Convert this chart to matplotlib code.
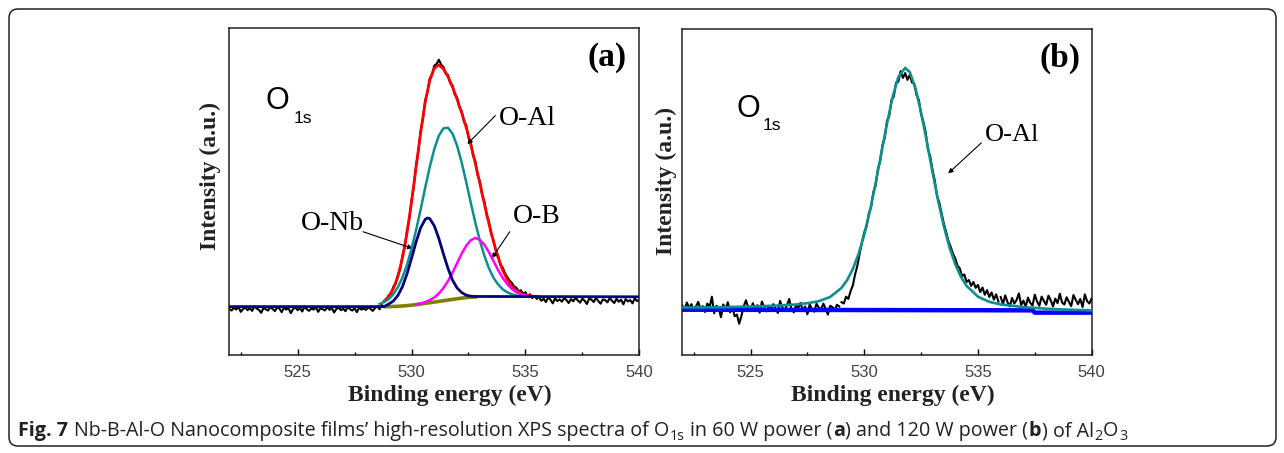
import numpy as np
import matplotlib.pyplot as plt
from matplotlib.patches import FancyBboxPatch
from matplotlib.transforms import IdentityTransform

# ---------------- panel (a): 60 W ----------------
# raw spectrum, sampled every 0.1 eV
raw_a_left_start = 522.0
raw_a_left = [
    14.1, 13.6, 14.5, 13.9, 14.8, 13.2, 14.0, 14.6, 13.7, 14.3,
    13.5, 14.9, 14.2, 13.8, 12.9, 14.4, 14.0, 13.6, 14.7, 14.1,
    13.4, 14.6, 14.2, 13.1, 14.5, 13.9, 14.3, 12.8, 14.1, 14.6,
    13.7, 14.4, 13.3, 14.8, 14.0, 13.5, 14.2, 13.9, 14.6, 13.2,
    14.3, 14.0, 13.6, 14.7, 13.8, 14.4, 13.0, 14.1, 14.5, 13.7,
    14.2, 13.4, 14.8, 14.0, 13.6, 14.3, 13.1, 14.5, 13.9, 14.2,
    13.8, 14.6, 14.1, 13.5, 14.4, 14.9, 14.0, 15.3, 14.7,
]
raw_a_peak_start = 528.9
raw_a_peak = [
    16.8, 18.3, 18.6, 20.9, 21.6, 24.5, 26.1, 30.4, 32.8, 38.0,
    41.5, 47.3, 51.6, 58.1, 62.3, 68.6, 72.2, 77.9, 80.4, 84.6,
    85.8, 88.5, 89.0, 90.3, 88.8, 88.1, 86.0, 85.7, 83.1, 82.5,
    79.6, 78.8, 75.7, 74.6, 71.4, 70.3, 66.5, 65.0, 61.0, 59.3,
    55.0, 53.1, 48.8, 46.9, 42.6, 40.8, 36.9, 35.2, 31.8, 30.5,
    27.5, 26.8, 25.1, 23.9, 22.8, 22.1, 21.0, 20.6, 19.5, 19.8,
    18.7, 19.2, 17.9, 18.6, 17.4, 18.0, 17.2,
]
raw_a_right_start = 535.6
raw_a_right = [
    17.5, 16.6, 17.2, 16.2, 17.6, 16.9, 15.8, 17.3, 16.5, 17.0,
    16.3, 17.4, 16.8, 15.9, 17.1, 16.4, 17.5, 16.7, 16.0, 17.2,
    16.6, 15.6, 17.3, 16.9, 16.2, 17.5, 16.5, 15.7, 17.0, 16.8,
    16.1, 17.4, 16.6, 15.9, 17.2, 16.3, 16.9, 15.5, 17.1, 16.4,
    16.8, 15.8, 17.3, 16.5, 16.9,
]

# fitted envelope (red), 0.2 eV steps
red_a_start = 528.8
red_a = [16.5, 17.9, 20.3, 24.0, 29.7, 37.3, 46.8, 57.5, 68.0, 77.3,
         84.0, 87.7, 88.7, 87.5, 85.1, 81.9, 78.2, 74.1, 69.6, 64.4,
         58.6, 52.5, 46.2, 40.1, 34.6, 29.8, 26.0, 23.1, 21.0, 19.7,
         18.8, 18.3, 18.1, 17.9, 17.8]

# O-Al component (teal), 0.2 eV steps
oal_a_start = 528.6
oal_a = [15.6, 16.2, 17.1, 18.6, 20.7, 23.7, 27.6, 32.5, 38.2, 44.5,
         51.2, 57.5, 63.0, 67.1, 69.3, 69.5, 67.7, 64.0, 58.9, 52.9,
         46.6, 40.5, 35.0, 30.3, 26.5, 23.6, 21.6, 20.1, 19.2, 18.6,
         18.2, 18.0, 17.9]

# O-B component (magenta), 0.2 eV steps
ob_a_start = 530.2
ob_a = [15.5, 15.8, 16.2, 16.8, 17.6, 18.8, 20.5, 22.6, 25.2, 28.1,
        31.0, 33.4, 35.1, 35.8, 35.2, 33.7, 31.4, 28.7, 26.0, 23.6,
        21.7, 20.2, 19.2, 18.6, 18.2, 18.0, 17.9, 17.8]

# O-Nb component with baseline (navy)
onb_a_x = [522.0, 528.8, 529.0, 529.2, 529.4, 529.6, 529.8, 530.0, 530.2,
           530.4, 530.6, 530.7, 530.8, 531.0, 531.2, 531.4, 531.6, 531.8,
           532.0, 532.2, 532.4, 532.6, 532.8, 540.0]
onb_a_y = [14.8, 14.8, 15.6, 16.5, 18.2, 20.9, 24.8, 29.6, 34.6, 38.9,
           41.5, 41.9, 41.7, 39.5, 35.6, 30.9, 26.5, 22.9, 20.5, 19.1,
           18.3, 18.0, 17.9, 17.8]

# Shirley background (olive)
bg_a_x = [528.9, 529.0, 529.4, 529.8, 530.2, 530.6, 531.0, 531.4, 531.8,
          532.2, 532.6, 532.8]
bg_a_y = [14.8, 14.8, 14.9, 15.1, 15.4, 15.8, 16.2, 16.6, 17.0, 17.4,
          17.7, 17.75]

# ---------------- panel (b): 120 W ----------------
raw_b_left_start = 522.0
raw_b_left = [
    15.2, 13.8, 16.1, 14.4, 15.6, 13.5, 14.9, 16.3, 14.1, 15.0,
    13.2, 15.8, 14.6, 17.9, 12.8, 15.1, 14.3, 11.6, 15.5, 14.0,
    16.2, 13.1, 14.8, 11.9, 12.4, 9.6, 12.0, 15.0, 16.8, 14.5,
    13.6, 15.9, 14.1, 15.3, 13.0, 16.4, 14.7, 13.4, 15.1, 14.0,
    15.6, 14.2, 12.9, 16.6, 14.5, 13.8, 15.2, 17.2, 14.0, 13.1,
    15.3, 14.4, 16.0, 13.6, 14.9, 12.5, 15.5, 14.1, 13.3, 15.7,
    14.6, 13.9, 15.8, 14.3, 12.4, 15.1, 14.7, 13.8, 15.4, 14.9,
]
raw_b_peak_start = 529.0
raw_b_peak = [
    16.2, 15.8, 17.9, 17.2, 19.6, 21.4, 24.8, 27.5, 31.2, 34.6,
    37.6, 39.4, 43.4, 45.3, 50.0, 51.9, 57.1, 59.4, 64.3, 66.6,
    71.8, 73.4, 78.3, 79.3, 83.6, 83.8, 87.1, 85.0, 86.5, 84.4,
    85.9, 83.6, 83.2, 79.7, 78.3, 73.8, 71.6, 68.4, 63.1, 61.0,
    56.8, 53.6, 48.8, 46.8, 43.5, 40.3, 37.8, 35.0, 33.2, 31.1,
    29.7, 27.4, 26.6, 24.2, 24.7, 22.4, 23.0, 21.2, 22.4, 20.6,
    21.5, 19.3, 20.7, 18.5, 19.9, 17.8, 19.2, 17.0, 18.6, 16.4,
]
raw_b_right_start = 536.0
raw_b_right = [
    17.8, 15.6, 18.3, 16.2, 14.9, 17.5, 15.8, 16.9, 18.9, 15.3,
    16.7, 14.8, 17.6, 16.0, 15.2, 18.5, 16.4, 15.1, 17.9, 16.6,
    15.4, 18.2, 16.8, 14.9, 17.3, 15.9, 18.8, 16.1, 15.5, 17.7,
    16.3, 15.0, 18.4, 16.9, 15.6, 17.2, 14.7, 18.6, 16.5, 15.8,
    17.4,
]

# O-Al fit (teal)
oal_b_x = [522, 523, 524, 525, 526, 527, 527.5, 528, 528.5, 529,
           529.25, 529.5, 529.75, 530, 530.25, 530.5, 530.75, 531, 531.25, 531.5,
           531.8, 532, 532.25, 532.5, 532.75, 533, 533.25, 533.5, 533.75, 534,
           534.25, 534.5, 535, 535.5, 536, 537, 538, 539, 540]
oal_b_y = [14.6, 14.6, 14.7, 14.9, 15.1, 15.5, 15.9, 16.5, 17.8, 20.6,
           23.0, 26.4, 31.0, 36.9, 44.2, 52.7, 61.9, 71.0, 79.2, 85.3,
           88.1, 86.8, 81.9, 74.4, 65.5, 56.2, 47.3, 39.5, 33.0, 27.9,
           24.0, 21.2, 17.9, 16.3, 15.5, 14.7, 14.2, 13.9, 13.7]

# baseline (blue)
base_b_x = [522.0, 537.4, 537.5, 540.0]
base_b_y = [13.9, 13.7, 13.0, 13.0]


def grid(start, n, step):
    return start + step * np.arange(n)


SERIF = 'Liberation Serif'
SANS = 'Liberation Sans'

fig = plt.figure(figsize=(12.84, 4.53), dpi=100)
ax_a = fig.add_axes([0.1786, 0.2163, 0.3193, 0.7219])
ax_b = fig.add_axes([0.5314, 0.2163, 0.3188, 0.7196])


def style_axes(ax, xlab_x, ylab_x, ylab_y):
    ax.set_xlim(522, 540)
    ax.set_ylim(0, 100)
    ax.set_yticks([])
    ax.set_xticks([525, 530, 535, 540])
    ax.set_xticks([522.5, 527.5, 532.5, 537.5], minor=True)
    ax.tick_params(axis='x', which='major', direction='in', length=4,
                   width=1.0, pad=7, labelsize=12, labelcolor='#444444')
    ax.tick_params(axis='x', which='minor', direction='in', length=2.5, width=1.0)
    for lab in ax.get_xticklabels():
        lab.set_fontfamily(SANS)
    for s in ax.spines.values():
        s.set_linewidth(1.1)
        s.set_color('#222222')
    ax.set_xlabel('Binding energy (eV)', fontsize=17, fontweight='bold',
                  family=SERIF, color='#222222')
    ax.xaxis.label.set_va('center')
    ax.xaxis.set_label_coords(xlab_x, -0.125)
    ax.set_ylabel('Intensity (a.u.)', fontsize=17, fontweight='bold',
                  family=SERIF, color='#222222')
    ax.yaxis.label.set_va('center')
    ax.yaxis.set_label_coords(ylab_x, ylab_y)


RAW_LW = 1.5

# ---- panel (a)
ax = ax_a
ax.plot(grid(raw_a_left_start, len(raw_a_left), 0.1), raw_a_left, color='black', lw=RAW_LW, zorder=1)
ax.plot(grid(raw_a_peak_start, len(raw_a_peak), 0.1), raw_a_peak, color='black', lw=RAW_LW, zorder=1)
ax.plot(grid(raw_a_right_start, len(raw_a_right), 0.1), raw_a_right, color='black', lw=RAW_LW, zorder=1)
ax.plot(grid(red_a_start, len(red_a), 0.2), red_a, color='#ff0000', lw=2.0, zorder=2)
ax.plot(bg_a_x, bg_a_y, color='#808000', lw=2.6, zorder=3)
ax.plot(grid(oal_a_start, len(oal_a), 0.2), oal_a, color='#0e8f8f', lw=1.8, zorder=4)
ax.plot(grid(ob_a_start, len(ob_a), 0.2), ob_a, color='#ff00ff', lw=1.8, zorder=5)
ax.plot(onb_a_x, onb_a_y, color='#000080', lw=2.0, zorder=6)

ax.text(523.61, 75.2, 'O', fontsize=22, family=SANS, ha='left', va='baseline')
ax.text(524.81, 70.9, '1s', fontsize=12.5, family=SANS, ha='left', va='baseline')
ax.text(0.922, 0.884, '(a)', transform=ax.transAxes, fontsize=24, fontweight='bold',
        family=SERIF, ha='center', va='baseline')
ax.text(533.85, 70.3, 'O-Al', fontsize=20, family=SERIF, ha='left', va='baseline')
ax.text(534.47, 40.4, 'O-B', fontsize=20, family=SERIF, ha='left', va='baseline')
ax.text(525.15, 38.2, 'O-Nb', fontsize=20, family=SERIF, ha='left', va='baseline')
arrow = dict(arrowstyle='-|>', lw=0.8, color='black', mutation_scale=7, shrinkA=0, shrinkB=0)
ax.annotate('', xy=(532.45, 64.5), xytext=(533.68, 73.2), arrowprops=arrow)
ax.annotate('', xy=(533.53, 29.6), xytext=(534.31, 37.7), arrowprops=arrow)
ax.annotate('', xy=(530.05, 32.6), xytext=(527.87, 37.7), arrowprops=arrow)
style_axes(ax, 0.537, -0.047, 0.547)

# ---- panel (b)
ax = ax_b
ax.plot(grid(raw_b_left_start, len(raw_b_left), 0.1), raw_b_left, color='black', lw=RAW_LW, zorder=1)
ax.plot(grid(raw_b_peak_start, len(raw_b_peak), 0.1), raw_b_peak, color='black', lw=RAW_LW, zorder=1)
ax.plot(grid(raw_b_right_start, len(raw_b_right), 0.1), raw_b_right, color='black', lw=RAW_LW, zorder=1)
ax.plot(base_b_x, base_b_y, color='#0000ff', lw=3.2, zorder=2)
ax.plot(oal_b_x, oal_b_y, color='#0e8f8f', lw=1.9, zorder=3)

ax.text(524.39, 73.1, 'O', fontsize=22, family=SANS, ha='left', va='baseline')
ax.text(525.51, 69.0, '1s', fontsize=12.5, family=SANS, ha='left', va='baseline')
ax.text(0.9226, 0.884, '(b)', transform=ax.transAxes, fontsize=24, fontweight='bold',
        family=SERIF, ha='center', va='baseline')
ax.text(535.29, 65.5, 'O-Al', fontsize=19, family=SERIF, ha='left', va='baseline')
ax.annotate('', xy=(533.69, 55.7), xytext=(535.15, 65.1), arrowprops=arrow)
style_axes(ax, 0.515, -0.038, 0.535)

# ---- frame around the whole figure
W, H = 1284, 453
frame = FancyBboxPatch((9, 7), 1267, 437, boxstyle='round,pad=0,rounding_size=9',
                       transform=IdentityTransform(), fill=False,
                       ec='#222222', lw=1.1)
fig.add_artist(frame)

# ---- caption
caption_pieces = [
    ('Fig. 7', 'bold', False, False),
    ('Nb-B-Al-O Nanocomposite films\u2019 high-resolution XPS spectra of O', 'normal', False, True),
    ('1s', 'normal', True, False),
    ('in 60 W power (', 'normal', False, True),
    ('a', 'bold', False, False),
    (') and 120 W power (', 'normal', False, False),
    ('b', 'bold', False, False),
    (') of Al', 'normal', False, False),
    ('2', 'normal', True, False),
    ('O', 'normal', False, False),
    ('3', 'normal', True, False),
]


def draw_caption(size, x0=18, base=17):
    renderer = fig.canvas.get_renderer()
    x = x0
    texts = []
    space = size * 0.26 * fig.dpi / 72
    for txt, weight, sub, gap in caption_pieces:
        if gap:
            x += space
        s = size * 0.72 if sub else size
        y = base - 3.5 if sub else base
        t = fig.text(x / W, y / H, txt, fontsize=s, fontweight=weight,
                     family='Open Sans', color='#222222', ha='left', va='baseline')
        x += t.get_window_extent(renderer).width + 0.5
        texts.append(t)
    return texts, x


texts, end = draw_caption(12)
for t in texts:
    t.remove()
draw_caption(12 * (1130 - 18) / (end - 18))

fig.savefig('out.png', dpi=100)
